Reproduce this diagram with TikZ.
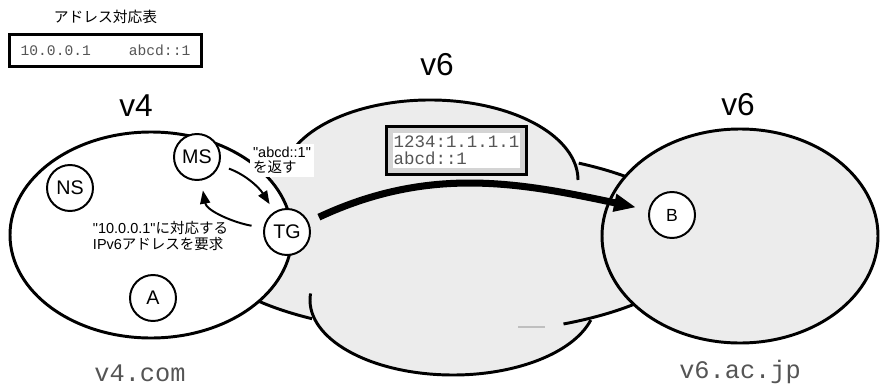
\documentclass[tikz,border=0pt]{standalone}
\usepackage{fontspec}
\defaultfontfeatures[\rmfamily,\sffamily]{}
\setmainfont{Liberation Sans}
\setmonofont{Liberation Mono}
\newfontfamily\jpfont{Noto Sans CJK JP}
\usetikzlibrary{arrows.meta,positioning}

\definecolor{cloudgray}{RGB}{236,236,236}
\definecolor{bandgray}{RGB}{212,212,212}
\definecolor{addrgray}{RGB}{85,85,85}

\begin{document}
\begin{tikzpicture}[x=0.025cm,y=0.025cm,
  host/.style={draw,circle,line width=1.4pt,fill=white,minimum size=1.15cm,inner sep=0pt,font=\fontsize{14}{14}\selectfont},
  net/.style={line width=2.1pt},
  nettitle/.style={font=\fontsize{22.5}{22.5}\selectfont},
  sitename/.style={font=\fontsize{18}{18}\ttfamily,text=addrgray},
  note/.style={align=left,inner sep=2pt,font=\fontsize{10.3}{11}\selectfont},
  msg/.style={-{Triangle[length=0.33cm,width=0.25cm]},line width=1.4pt}]
  \useasboundingbox (0,0) rectangle (880,390);

  % IPv6 cloud: fill first, then the visible edges
  \fill[cloudgray] (450,148) ellipse [x radius=250,y radius=92];
  \fill[cloudgray] (430,210) ellipse [x radius=148,y radius=80];
  \fill[cloudgray] (453,90) ellipse [x radius=143,y radius=75];
  \draw[net,shift={(430,210)}] (160:148 and 80) arc[start angle=160,end angle=0,x radius=148,y radius=80];
  \draw[net,shift={(450,148)}] (59:250 and 92) arc[start angle=59,end angle=20,x radius=250,y radius=92];
  \draw[net,shift={(450,148)}] (-63:250 and 92) arc[start angle=-63,end angle=-20,x radius=250,y radius=92];
  \draw[net,shift={(450,148)}] (215:250 and 92) arc[start angle=215,end angle=236.5,x radius=250,y radius=92];
  \draw[net,shift={(453,90)}] (175:143 and 75) arc[start angle=175,end angle=344.5,x radius=143,y radius=75];
  \draw[gray!50,line width=0.8pt] (518,63) -- (545,63);

  % v6 site and v4 site
  \draw[net,fill=cloudgray] (740,154) ellipse [x radius=138,y radius=107];
  \draw[net,fill=white] (151,155) ellipse [x radius=141,y radius=103];

  % Titles
  \node[nettitle] (v4) at (136,284) {v4};
  \node[nettitle] (v6mid) at (437,325) {v6};
  \node[nettitle] (v6) at (738,285) {v6};
  \node[sitename] (v4dom) at (140,17) {v4.com};
  \node[sitename] (v6dom) at (740,18) {v6.ac.jp};

  % Address tables
  \node[draw,line width=2.1pt,fill=white,minimum width=4.8cm,minimum height=0.8cm,inner sep=0pt,
        font=\fontsize{10.4}{10.4}\ttfamily,text=addrgray] (tbl4) at (105.5,339.5)
        {10.0.0.1\hspace{0.95cm}abcd::1};
  \node[above=0.12cm of tbl4,font=\fontsize{10.5}{10.5}\jpfont] (tbl4title) {アドレス対応表};
  \node[fill=white,draw=bandgray,line width=3pt,preaction={draw=black,line width=7.4pt},
        minimum width=3.3cm,minimum height=1cm,inner sep=0pt,align=left,
        font=\fontsize{12.4}{12}\ttfamily,text=addrgray] (tbl6) at (456.5,239.5)
        {1234:1.1.1.1\\abcd::1};

  % Hosts
  \node[host] (ms) at (197,233) {MS};
  \node[host] (ns) at (70,202) {NS};
  \node[host] (tg) at (287,158) {TG};
  \node[host] (a) at (153,92) {A};
  \node[host,font=\fontsize{12.5}{12.5}\selectfont] (b) at (672,175) {B};

  % Query and reply between TG and MS
  \draw[msg,shorten <=0.3cm,shorten >=0.25cm] (tg) to[out=170,in=-80] (ms);
  \draw[msg,shorten <=0.25cm,shorten >=0.22cm] (ms) to[out=-20,in=122] (tg);
  \node[note] (req) at (160.5,154) {"10.0.0.1"{\jpfont に対応する}\\IPv6{\jpfont アドレスを要求}};
  \node[note,fill=white] (rep) at (282,229.5) {"abcd::1"\\{\jpfont を返す}};

  % Translated path to B
  \draw[line width=5pt,-{Triangle[length=0.55cm,width=0.42cm]},shorten <=0.28cm,shorten >=0.32cm]
    (tg) to[out=25,in=168] (b);
\end{tikzpicture}
\end{document}
